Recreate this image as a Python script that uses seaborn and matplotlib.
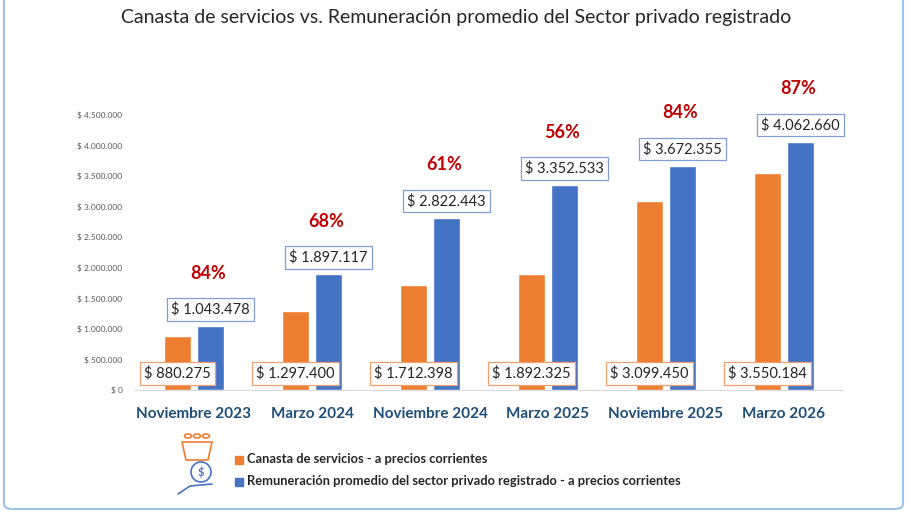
import numpy as np
import pandas as pd
import matplotlib.pyplot as plt
import matplotlib.patches as mpatches
import seaborn as sns

# datos del gráfico
periodos = ['Noviembre 2023', 'Marzo 2024', 'Noviembre 2024', 'Marzo 2025',
            'Noviembre 2025', 'Marzo 2026']
canasta = [880275, 1297400, 1712398, 1892325, 3099450, 3550184]
remuneracion = [1043478, 1897117, 2822443, 3352533, 3672355, 4062660]
porcentajes = ['84%', '68%', '61%', '56%', '84%', '87%']
serie_canasta = 'Canasta de servicios - a precios corrientes'
serie_remun = 'Remuneración promedio del sector privado registrado - a precios corrientes'
subtitulo = 'Canasta de servicios vs. Remuneración promedio del Sector privado registrado'

naranja = '#ED7D31'
azul = '#4472C4'
azul_oscuro = '#1F4E79'

df = pd.DataFrame({
    'Periodo': periodos * 2,
    'Serie': [serie_canasta] * len(periodos) + [serie_remun] * len(periodos),
    'Valor': canasta + remuneracion,
})

sns.set_style('white')
plt.rcParams['font.family'] = ['Lato', 'DejaVu Sans']

W, H = 912, 513
fig = plt.figure(figsize=(W / 100, H / 100), dpi=100)
ax = fig.add_axes([135 / W, 1 - 390 / H, (843 - 135) / W, 275 / H])

sns.barplot(data=df, x='Periodo', y='Valor', hue='Serie',
            hue_order=[serie_canasta, serie_remun],
            palette=[naranja, azul], saturation=1, width=0.56, gap=0.18,
            legend=False, ax=ax)

ax.set_xlim(-0.5, 5.5)
ax.set_ylim(0, 4500000)
ax.set_yticks(np.arange(0, 4500001, 500000))
ax.set_yticklabels(['$ 0' if v == 0 else '$ ' + f'{int(v):,}'.replace(',', '.')
                    for v in ax.get_yticks()], fontsize=6, color='#595959')
ax.tick_params(axis='y', length=0, pad=9)
ax.tick_params(axis='x', length=0, pad=12)
for lab in ax.get_xticklabels():
    lab.set_fontweight('bold')
    lab.set_fontsize(11)
    lab.set_color(azul_oscuro)
ax.set_xlabel('')
ax.set_ylabel('')
for s in ['top', 'right', 'left']:
    ax.spines[s].set_visible(False)
ax.spines['bottom'].set_color('#D9D9D9')

def fmt(v):
    return '$ ' + f'{v:,}'.replace(',', '.')

bars_c, bars_r = ax.containers[0], ax.containers[1]
for i in range(len(periodos)):
    bc = bars_c[i]
    xc = bc.get_x() + bc.get_width() / 2
    ax.annotate(fmt(canasta[i]), (xc, 0), xytext=(0, 12), textcoords='offset points',
                ha='center', va='center', fontsize=10.5, color='#262626',
                bbox=dict(boxstyle='square,pad=0.28', fc='white', ec='#F0A070', lw=0.9),
                annotation_clip=False)
    br = bars_r[i]
    xr = br.get_x() + br.get_width() / 2
    ax.annotate(fmt(remuneracion[i]), (xr, remuneracion[i]), xytext=(0, 12),
                textcoords='offset points', ha='center', va='center', fontsize=10.5,
                color='#262626',
                bbox=dict(boxstyle='square,pad=0.28', fc='white', ec='#7F9FD6', lw=0.9),
                annotation_clip=False)
    ax.annotate(porcentajes[i], (xr, remuneracion[i]), xytext=(-2, 38),
                textcoords='offset points', ha='center', va='center', fontsize=13,
                fontweight='bold', color='#C00000', annotation_clip=False)

# subtítulo
fig.text(0.5, 1 - 18 / H, subtitulo, ha='center', va='center', fontsize=14,
         color='#262626')

# leyenda
def px(x, y):
    return (x / W, 1 - y / H)

fig.patches.append(mpatches.Rectangle(px(235, 464), 8 / W, 8 / H, color=naranja,
                                      transform=fig.transFigure))
fig.patches.append(mpatches.Rectangle(px(235, 486), 8 / W, 8 / H, color=azul,
                                      transform=fig.transFigure))
fig.text(*px(247, 459), serie_canasta, ha='left', va='center', fontsize=9.3,
         fontweight='bold', color='#262626')
fig.text(*px(247, 481), serie_remun, ha='left', va='center', fontsize=9.3,
         fontweight='bold', color='#262626')

# íconos simples
for cx in [188, 197, 206]:
    fig.patches.append(mpatches.Circle(px(cx, 436), 3.5 / W, fc='white', ec=naranja,
                                       lw=1.2, transform=fig.transFigure))
fig.patches.append(mpatches.Polygon([px(182, 442), px(212, 442), px(208, 460), px(186, 460)],
                                    closed=True, fc='white', ec=naranja, lw=1.2,
                                    transform=fig.transFigure))
fig.patches.append(mpatches.Ellipse(px(201, 472), 20 / W, 20 / H, fc='white', ec=azul,
                                    lw=1.2, transform=fig.transFigure))
fig.text(*px(201, 472), '$', ha='center', va='center', fontsize=8, fontweight='bold',
         color=azul)
fig.lines.append(plt.Line2D([px(178, 494)[0], px(190, 486)[0], px(212, 484)[0]],
                            [px(178, 494)[1], px(190, 486)[1], px(212, 484)[1]],
                            color=azul, lw=1.2, transform=fig.transFigure))

# borde
fig.patches.append(mpatches.FancyBboxPatch(px(4, 509), 899 / W, 530 / H,
                                           boxstyle='round,pad=0,rounding_size=0.01',
                                           fc='none', ec='#9DC3E6', lw=1.5,
                                           transform=fig.transFigure))

fig.savefig('out.png', dpi=100)
